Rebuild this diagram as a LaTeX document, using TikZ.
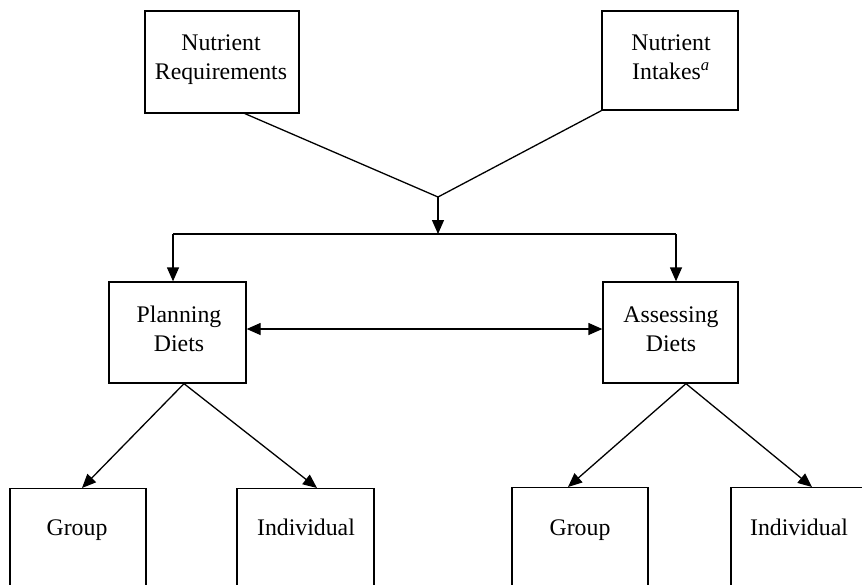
\documentclass[tikz,border=0pt]{standalone}
\usepackage{fontspec}
\setmainfont{Liberation Serif}
\usetikzlibrary{arrows.meta}
\begin{document}
\begin{tikzpicture}[x=1pt,y=-1pt,
  box/.style={draw, line width=1.3pt, inner sep=0pt},
  txt/.style={align=center, inner sep=0pt, font=\fontsize{23.8}{29}\selectfont},
  conn/.style={line width=1.3pt},
  arr/.style={line width=1.3pt, -{Triangle[length=14pt,width=12pt]}},
  darr/.style={line width=1.3pt, {Triangle[length=14pt,width=12pt]}-{Triangle[length=14pt,width=12pt]}}]
\useasboundingbox (0,0) rectangle (862,584);
\fill[white] (0,0) rectangle (862,584);
\clip (0,0) rectangle (862,584);
% top boxes
\node[box, minimum width=154pt, minimum height=102pt] (nr) at (222,62) {};
\node[txt] (nrt) at (221,59.7) {Nutrient\\Requirements};
\node[box, minimum width=136pt, minimum height=99pt] (ni) at (670,60.5) {};
\node[txt] (nit) at (671,57.1) {Nutrient\\Intakes\textsuperscript{\itshape a}};
% middle boxes
\node[box, minimum width=137pt, minimum height=101pt] (pd) at (177.5,332.5) {};
\node[txt] (pdt) at (179,329) {Planning\\Diets};
\node[box, minimum width=135pt, minimum height=101pt] (ad) at (670.5,332.5) {};
\node[txt] (adt) at (671,329) {Assessing\\Diets};
% bottom boxes
\node[box, minimum width=136pt, minimum height=150pt, anchor=north] (g1) at (78,488) {};
\node[txt, anchor=base] (g1t) at (77,535) {Group};
\node[box, minimum width=137pt, minimum height=150pt, anchor=north] (i1) at (305.5,488) {};
\node[txt, anchor=base] (i1t) at (306,535) {Individual};
\node[box, minimum width=136pt, minimum height=150pt, anchor=north] (g2) at (580,487) {};
\node[txt, anchor=base] (g2t) at (580,535) {Group};
\node[box, minimum width=136pt, minimum height=150pt, anchor=north] (i2) at (799,487) {};
\node[txt, anchor=base] (i2t) at (799,535) {Individual};
% connectors
\coordinate (j) at (438,197);
\draw[conn] ([xshift=23pt]nr.south) -- (j);
\draw[conn] (ni.south west) -- (j);
\coordinate (h) at (438,234);
\draw[arr] (j) -- (h);
\coordinate (hl) at (173,234);
\coordinate (hr) at (676,234);
\draw[conn] (hl) -- (hr);
\draw[arr] (hl) -- (hl |- pd.north);
\draw[arr] (hr) -- (hr |- ad.north);
\draw[darr] ([yshift=3.5pt]pd.east) -- ([yshift=3.5pt]ad.west);
\coordinate (pa) at ([xshift=6.5pt]pd.south);
\draw[arr] (pa) -- ([xshift=4pt]g1.north);
\draw[arr] (pa) -- ([xshift=11.5pt]i1.north);
\coordinate (aa) at ([xshift=15.5pt]ad.south);
\draw[arr] (aa) -- ([xshift=-12pt]g2.north);
\draw[arr] (aa) -- ([xshift=13pt]i2.north);
\end{tikzpicture}
\end{document}
